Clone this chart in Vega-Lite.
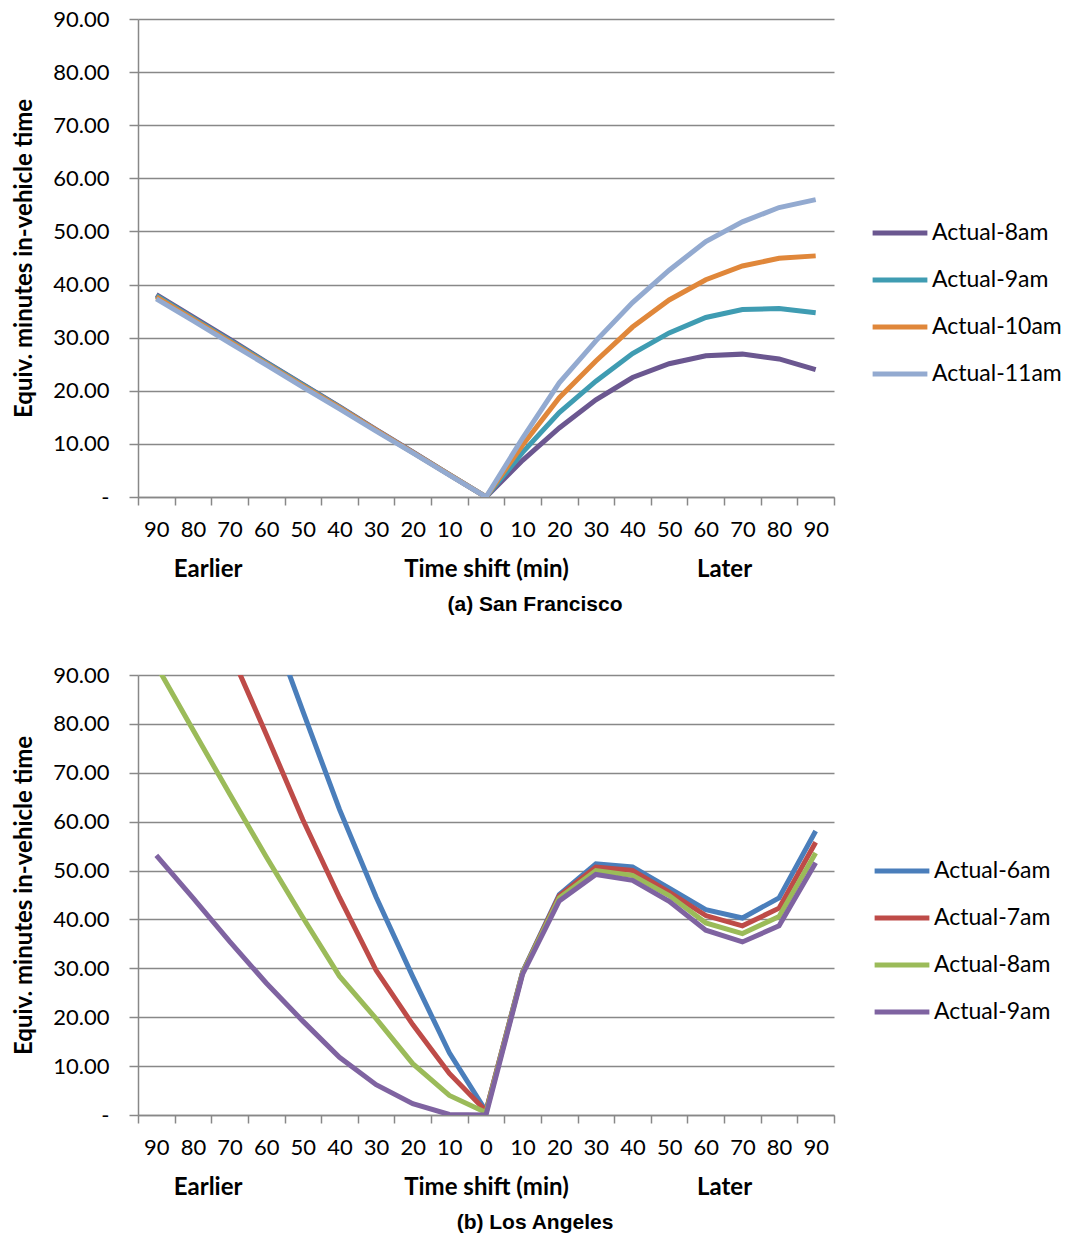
{
  "$schema": "https://vega.github.io/schema/vega-lite/v6.json",
  "padding": {"left": 12, "top": 8, "right": 5, "bottom": 5},
  "background": "white",
  "resolve": {"scale": {"color": "independent"}, "legend": {"color": "independent"}},
  "config": {
    "view": {"stroke": null},
    "axis": {"gridColor": "#888888", "gridWidth": 1.5, "domainColor": "#888888", "domainWidth": 1.5, "tickColor": "#888888", "tickWidth": 1.5, "tickSize": 8, "labelColor": "#000", "labelFont": "Lato", "labelFontSize": 22, "titleFont": "Lato", "titleFontWeight": "bold", "titleFontSize": 24, "titleColor": "#000"},
    "legend": {"labelFont": "Lato", "labelFontSize": 23, "labelColor": "#000"},
    "title": {"font": "Liberation Sans", "fontSize": 21, "fontWeight": "bold", "color": "#000"}
  },
  "datasets": {
    "sf": [
      {"series": "Actual-8am", "shift": -90, "value": 38.1}, {"series": "Actual-8am", "shift": -80, "value": 33.9}, {"series": "Actual-8am", "shift": -70, "value": 29.7}, {"series": "Actual-8am", "shift": -60, "value": 25.4}, {"series": "Actual-8am", "shift": -50, "value": 21.2}, {"series": "Actual-8am", "shift": -40, "value": 17.0}, {"series": "Actual-8am", "shift": -30, "value": 12.7}, {"series": "Actual-8am", "shift": -20, "value": 8.5}, {"series": "Actual-8am", "shift": -10, "value": 4.2}, {"series": "Actual-8am", "shift": 0, "value": 0}, {"series": "Actual-8am", "shift": 10, "value": 6.9}, {"series": "Actual-8am", "shift": 20, "value": 13.0}, {"series": "Actual-8am", "shift": 30, "value": 18.3}, {"series": "Actual-8am", "shift": 40, "value": 22.5}, {"series": "Actual-8am", "shift": 50, "value": 25.1}, {"series": "Actual-8am", "shift": 60, "value": 26.6}, {"series": "Actual-8am", "shift": 70, "value": 26.9}, {"series": "Actual-8am", "shift": 80, "value": 26.0}, {"series": "Actual-8am", "shift": 90, "value": 24.0},
      {"series": "Actual-9am", "shift": -90, "value": 37.9}, {"series": "Actual-9am", "shift": -80, "value": 33.7}, {"series": "Actual-9am", "shift": -70, "value": 29.5}, {"series": "Actual-9am", "shift": -60, "value": 25.3}, {"series": "Actual-9am", "shift": -50, "value": 21.1}, {"series": "Actual-9am", "shift": -40, "value": 16.9}, {"series": "Actual-9am", "shift": -30, "value": 12.6}, {"series": "Actual-9am", "shift": -20, "value": 8.4}, {"series": "Actual-9am", "shift": -10, "value": 4.2}, {"series": "Actual-9am", "shift": 0, "value": 0}, {"series": "Actual-9am", "shift": 10, "value": 8.4}, {"series": "Actual-9am", "shift": 20, "value": 15.9}, {"series": "Actual-9am", "shift": 30, "value": 21.8}, {"series": "Actual-9am", "shift": 40, "value": 27.0}, {"series": "Actual-9am", "shift": 50, "value": 30.9}, {"series": "Actual-9am", "shift": 60, "value": 33.8}, {"series": "Actual-9am", "shift": 70, "value": 35.3}, {"series": "Actual-9am", "shift": 80, "value": 35.5}, {"series": "Actual-9am", "shift": 90, "value": 34.7},
      {"series": "Actual-10am", "shift": -90, "value": 37.7}, {"series": "Actual-10am", "shift": -80, "value": 33.5}, {"series": "Actual-10am", "shift": -70, "value": 29.3}, {"series": "Actual-10am", "shift": -60, "value": 25.1}, {"series": "Actual-10am", "shift": -50, "value": 20.9}, {"series": "Actual-10am", "shift": -40, "value": 16.8}, {"series": "Actual-10am", "shift": -30, "value": 12.6}, {"series": "Actual-10am", "shift": -20, "value": 8.4}, {"series": "Actual-10am", "shift": -10, "value": 4.2}, {"series": "Actual-10am", "shift": 0, "value": 0}, {"series": "Actual-10am", "shift": 10, "value": 9.8}, {"series": "Actual-10am", "shift": 20, "value": 18.7}, {"series": "Actual-10am", "shift": 30, "value": 25.6}, {"series": "Actual-10am", "shift": 40, "value": 32.0}, {"series": "Actual-10am", "shift": 50, "value": 37.1}, {"series": "Actual-10am", "shift": 60, "value": 40.9}, {"series": "Actual-10am", "shift": 70, "value": 43.5}, {"series": "Actual-10am", "shift": 80, "value": 44.95}, {"series": "Actual-10am", "shift": 90, "value": 45.4},
      {"series": "Actual-11am", "shift": -90, "value": 37.3}, {"series": "Actual-11am", "shift": -80, "value": 33.2}, {"series": "Actual-11am", "shift": -70, "value": 29.0}, {"series": "Actual-11am", "shift": -60, "value": 24.9}, {"series": "Actual-11am", "shift": -50, "value": 20.7}, {"series": "Actual-11am", "shift": -40, "value": 16.6}, {"series": "Actual-11am", "shift": -30, "value": 12.4}, {"series": "Actual-11am", "shift": -20, "value": 8.3}, {"series": "Actual-11am", "shift": -10, "value": 4.1}, {"series": "Actual-11am", "shift": 0, "value": 0}, {"series": "Actual-11am", "shift": 10, "value": 11.1}, {"series": "Actual-11am", "shift": 20, "value": 21.5}, {"series": "Actual-11am", "shift": 30, "value": 29.4}, {"series": "Actual-11am", "shift": 40, "value": 36.6}, {"series": "Actual-11am", "shift": 50, "value": 42.7}, {"series": "Actual-11am", "shift": 60, "value": 48.1}, {"series": "Actual-11am", "shift": 70, "value": 51.8}, {"series": "Actual-11am", "shift": 80, "value": 54.5}, {"series": "Actual-11am", "shift": 90, "value": 56.0}
    ],
    "la": [
      {"series": "Actual-6am", "shift": -90, "value": 166}, {"series": "Actual-6am", "shift": -80, "value": 145}, {"series": "Actual-6am", "shift": -70, "value": 124}, {"series": "Actual-6am", "shift": -60, "value": 103}, {"series": "Actual-6am", "shift": -50, "value": 82.6}, {"series": "Actual-6am", "shift": -40, "value": 62.5}, {"series": "Actual-6am", "shift": -30, "value": 44.6}, {"series": "Actual-6am", "shift": -20, "value": 28.3}, {"series": "Actual-6am", "shift": -10, "value": 12.7}, {"series": "Actual-6am", "shift": 0, "value": 0.8}, {"series": "Actual-6am", "shift": 10, "value": 29.3}, {"series": "Actual-6am", "shift": 20, "value": 45.1}, {"series": "Actual-6am", "shift": 30, "value": 51.4}, {"series": "Actual-6am", "shift": 40, "value": 50.75}, {"series": "Actual-6am", "shift": 50, "value": 46.4}, {"series": "Actual-6am", "shift": 60, "value": 42.0}, {"series": "Actual-6am", "shift": 70, "value": 40.3}, {"series": "Actual-6am", "shift": 80, "value": 44.4}, {"series": "Actual-6am", "shift": 90, "value": 58.1},
      {"series": "Actual-7am", "shift": -90, "value": 130}, {"series": "Actual-7am", "shift": -80, "value": 112}, {"series": "Actual-7am", "shift": -70, "value": 95}, {"series": "Actual-7am", "shift": -60, "value": 77.9}, {"series": "Actual-7am", "shift": -50, "value": 60.4}, {"series": "Actual-7am", "shift": -40, "value": 44.5}, {"series": "Actual-7am", "shift": -30, "value": 29.6}, {"series": "Actual-7am", "shift": -20, "value": 18.5}, {"series": "Actual-7am", "shift": -10, "value": 8.5}, {"series": "Actual-7am", "shift": 0, "value": 0.8}, {"series": "Actual-7am", "shift": 10, "value": 29.2}, {"series": "Actual-7am", "shift": 20, "value": 44.8}, {"series": "Actual-7am", "shift": 30, "value": 50.7}, {"series": "Actual-7am", "shift": 40, "value": 50.0}, {"series": "Actual-7am", "shift": 50, "value": 45.6}, {"series": "Actual-7am", "shift": 60, "value": 40.8}, {"series": "Actual-7am", "shift": 70, "value": 38.7}, {"series": "Actual-7am", "shift": 80, "value": 42.3}, {"series": "Actual-7am", "shift": 90, "value": 55.8},
      {"series": "Actual-8am", "shift": -90, "value": 92.0}, {"series": "Actual-8am", "shift": -80, "value": 78.8}, {"series": "Actual-8am", "shift": -70, "value": 65.7}, {"series": "Actual-8am", "shift": -60, "value": 52.8}, {"series": "Actual-8am", "shift": -50, "value": 40.4}, {"series": "Actual-8am", "shift": -40, "value": 28.4}, {"series": "Actual-8am", "shift": -30, "value": 19.7}, {"series": "Actual-8am", "shift": -20, "value": 10.5}, {"series": "Actual-8am", "shift": -10, "value": 4.0}, {"series": "Actual-8am", "shift": 0, "value": 0.5}, {"series": "Actual-8am", "shift": 10, "value": 29.1}, {"series": "Actual-8am", "shift": 20, "value": 44.4}, {"series": "Actual-8am", "shift": 30, "value": 50.0}, {"series": "Actual-8am", "shift": 40, "value": 49.0}, {"series": "Actual-8am", "shift": 50, "value": 44.9}, {"series": "Actual-8am", "shift": 60, "value": 39.3}, {"series": "Actual-8am", "shift": 70, "value": 37.1}, {"series": "Actual-8am", "shift": 80, "value": 40.6}, {"series": "Actual-8am", "shift": 90, "value": 53.6},
      {"series": "Actual-9am", "shift": -90, "value": 53.1}, {"series": "Actual-9am", "shift": -80, "value": 44.4}, {"series": "Actual-9am", "shift": -70, "value": 35.5}, {"series": "Actual-9am", "shift": -60, "value": 27.0}, {"series": "Actual-9am", "shift": -50, "value": 19.2}, {"series": "Actual-9am", "shift": -40, "value": 11.8}, {"series": "Actual-9am", "shift": -30, "value": 6.2}, {"series": "Actual-9am", "shift": -20, "value": 2.3}, {"series": "Actual-9am", "shift": -10, "value": 0.1}, {"series": "Actual-9am", "shift": 0, "value": 0}, {"series": "Actual-9am", "shift": 10, "value": 28.8}, {"series": "Actual-9am", "shift": 20, "value": 43.8}, {"series": "Actual-9am", "shift": 30, "value": 49.2}, {"series": "Actual-9am", "shift": 40, "value": 48.0}, {"series": "Actual-9am", "shift": 50, "value": 43.7}, {"series": "Actual-9am", "shift": 60, "value": 37.8}, {"series": "Actual-9am", "shift": 70, "value": 35.4}, {"series": "Actual-9am", "shift": 80, "value": 38.7}, {"series": "Actual-9am", "shift": 90, "value": 51.6}
    ]
  },
  "vconcat": [
    {
      "width": 696, "height": 478,
      "title": {"text": "(a) San Francisco", "orient": "bottom", "dx": 49, "offset": 13},
      "data": {"name": "sf"},
      "resolve": {"axis": {"x": "independent"}},
      "layer": [
        {
          "mark": {"type": "line", "strokeWidth": 5, "clip": true},
          "encoding": {
            "x": {"field": "shift", "type": "quantitative", "scale": {"domain": [-95, 95], "nice": false, "zero": false},
              "axis": {"orient": "bottom", "values": [-95, -85, -75, -65, -55, -45, -35, -25, -15, -5, 5, 15, 25, 35, 45, 55, 65, 75, 85, 95], "labelExpr": "datum.value > 90 ? '' : abs(datum.value + 5)", "labelOffset": 18.3, "labelOverlap": false, "labelFlush": false, "labelBound": false, "grid": false, "labelPadding": 14, "title": null}},
            "y": {"field": "value", "type": "quantitative", "scale": {"domain": [0, 90], "nice": false},
              "axis": {"values": [0, 10, 20, 30, 40, 50, 60, 70, 80, 90], "labelExpr": "datum.value == 0 ? '-\u00a0\u00a0\u00a0' : format(datum.value, '.2f')", "tickSize": 9, "labelPadding": 20, "title": "Equiv. minutes in-vehicle time", "titlePadding": 16}},
            "color": {"field": "series", "type": "nominal",
              "scale": {"domain": ["Actual-8am", "Actual-9am", "Actual-10am", "Actual-11am"], "range": ["#6b5790", "#3f9cb2", "#e0873a", "#93aad0"]},
              "legend": {"title": null, "orient": "none", "legendX": 732, "legendY": 184, "symbolType": "stroke", "symbolSize": 3000, "symbolStrokeWidth": 5, "rowPadding": 5, "labelOffset": 2}}
          }
        },
        {
          "mark": {"type": "point", "opacity": 0, "clip": true},
          "encoding": {
            "x": {"field": "shift", "type": "quantitative",
              "axis": {"orient": "bottom", "values": [-76, 0, 65], "labelExpr": "datum.value < -1 ? 'Earlier' : (datum.value > 1 ? 'Later' : 'Time shift (min)')", "ticks": false, "domain": false, "grid": false, "labelFont": "Lato", "labelFontWeight": "bold", "labelFontSize": 24, "labelPadding": 60, "labelOverlap": false, "labelFlush": false, "labelBound": false, "title": null}},
            "y": {"field": "value", "type": "quantitative"}
          }
        }
      ]
    },
    {
      "width": 696, "height": 440,
      "title": {"text": "(b) Los Angeles", "orient": "bottom", "dx": 49, "offset": 13},
      "data": {"name": "la"},
      "resolve": {"axis": {"x": "independent"}},
      "layer": [
        {
          "mark": {"type": "line", "strokeWidth": 5, "clip": true},
          "encoding": {
            "x": {"field": "shift", "type": "quantitative", "scale": {"domain": [-95, 95], "nice": false, "zero": false},
              "axis": {"orient": "bottom", "values": [-95, -85, -75, -65, -55, -45, -35, -25, -15, -5, 5, 15, 25, 35, 45, 55, 65, 75, 85, 95], "labelExpr": "datum.value > 90 ? '' : abs(datum.value + 5)", "labelOffset": 18.3, "labelOverlap": false, "labelFlush": false, "labelBound": false, "grid": false, "labelPadding": 14, "title": null}},
            "y": {"field": "value", "type": "quantitative", "scale": {"domain": [0, 90], "nice": false},
              "axis": {"values": [0, 10, 20, 30, 40, 50, 60, 70, 80, 90], "labelExpr": "datum.value == 0 ? '-\u00a0\u00a0\u00a0' : format(datum.value, '.2f')", "tickSize": 9, "labelPadding": 20, "title": "Equiv. minutes in-vehicle time", "titlePadding": 16}},
            "color": {"field": "series", "type": "nominal",
              "scale": {"domain": ["Actual-6am", "Actual-7am", "Actual-8am", "Actual-9am"], "range": ["#4a7ebb", "#be4b48", "#9bbb59", "#7f63a1"]},
              "legend": {"title": null, "orient": "none", "legendX": 734, "legendY": 166, "symbolType": "stroke", "symbolSize": 3000, "symbolStrokeWidth": 5, "rowPadding": 5, "labelOffset": 2}}
          }
        },
        {
          "mark": {"type": "point", "opacity": 0, "clip": true},
          "encoding": {
            "x": {"field": "shift", "type": "quantitative",
              "axis": {"orient": "bottom", "values": [-76, 0, 65], "labelExpr": "datum.value < -1 ? 'Earlier' : (datum.value > 1 ? 'Later' : 'Time shift (min)')", "ticks": false, "domain": false, "grid": false, "labelFont": "Lato", "labelFontWeight": "bold", "labelFontSize": 24, "labelPadding": 60, "labelOverlap": false, "labelFlush": false, "labelBound": false, "title": null}},
            "y": {"field": "value", "type": "quantitative"}
          }
        }
      ]
    }
  ],
  "spacing": 49
}
